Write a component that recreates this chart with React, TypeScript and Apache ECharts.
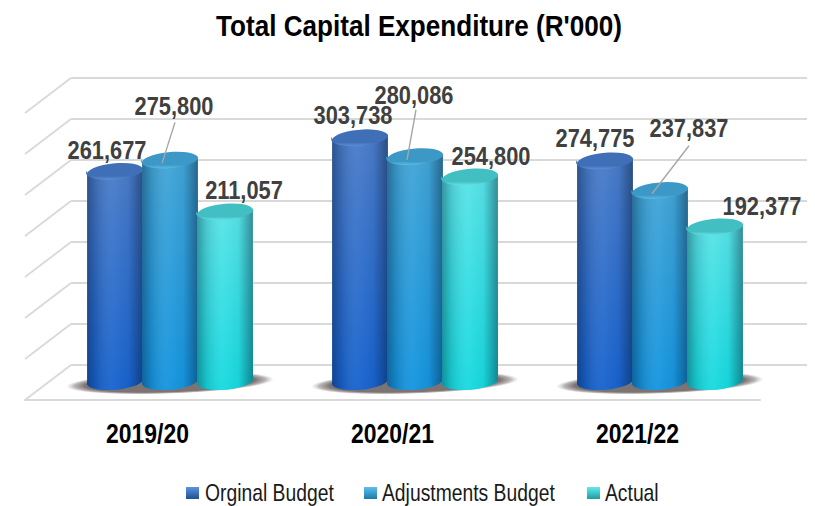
import React, { useEffect, useRef } from "react";
import * as echarts from "echarts";

const titleText = "Total Capital Expenditure (R'000)";
const categories = ["2019/20", "2020/21", "2021/22"];
const seriesNames = ["Orginal Budget", "Adjustments Budget", "Actual"];
const originalBudget = [261677, 303738, 274775];
const adjustmentsBudget = [275800, 280086, 237837];
const actual = [211057, 254800, 192377];
const gridTicks = [0, 50000, 100000, 150000, 200000, 250000, 300000, 350000];

const FONT = "'Liberation Sans', Arial, sans-serif";
const seriesValues = [originalBudget, adjustmentsBudget, actual];
const palette = [
  { top: "#4a7cc8", bottom: "#1763cf", lid: "#3f6fb6", rim: "#5d8fd8", dark: "#1f4f94", light: "#5a94e0" },
  { top: "#42a5d6", bottom: "#1495e0", lid: "#3c98c6", rim: "#5cbce4", dark: "#1c7aa8", light: "#5cc0ec" },
  { top: "#58e4e8", bottom: "#16dae0", lid: "#42bfc3", rim: "#68e2e4", dark: "#1f9ca0", light: "#62eaec" },
];
// label offsets from the lid centre [dx, dy], per series then category
const labelOffsets = [
  [[-8, -21], [-7, -22], [-10, -22]],
  [[4, -54], [-1, -61], [29, -62]],
  [[19, -21], [21, -20], [47, -20]],
];
// leader line start relative to lid centre, or null
const leaders = [
  [null, null, null],
  [[5, -37], [1, -46], [29, -44]],
  [null, null, null],
];
const legendIconX = [186, 364, 587];
const legendTextX = [205, 382, 605];

const BAR_W = 55;
const RX = 28;
const RY = 8.5;
const TILT = (5 * Math.PI) / 180;

const fmt = (v: number) => v.toLocaleString("en-US");

function barGeom(api: any, seriesIdx: number) {
  const cat = api.value(0);
  const val = api.value(1);
  const topPt = api.coord([cat, val]);
  const basePt = api.coord([cat, 0]);
  const cx = topPt[0] + (seriesIdx - 1) * BAR_W;
  return { cx, topY: topPt[1], baseY: basePt[1], catIdx: cat, val };
}

function cylinderRender(seriesIdx: number) {
  return (_params: any, api: any) => {
    const { cx, topY, baseY } = barGeom(api, seriesIdx);
    const c = palette[seriesIdx];
    const dx = RX * Math.cos(TILT);
    const dy = RX * Math.sin(TILT);
    const deg = -5;
    const tl = [cx - dx, topY + dy];
    const tr = [cx + dx, topY - dy];
    const bl = [cx - dx, baseY + dy];
    const br = [cx + dx, baseY - dy];
    const body =
      `M${tl[0]} ${tl[1]} L${bl[0]} ${bl[1]} ` +
      `A${RX} ${RY} ${deg} 0 0 ${br[0]} ${br[1]} L${tr[0]} ${tr[1]} ` +
      `A${RX} ${RY} ${deg} 0 1 ${tl[0]} ${tl[1]} Z`;
    const lid =
      `M${tl[0]} ${tl[1]} A${RX} ${RY} ${deg} 1 1 ${tr[0]} ${tr[1]} ` +
      `A${RX} ${RY} ${deg} 1 1 ${tl[0]} ${tl[1]} Z`;
    return {
      type: "group",
      children: [
        {
          type: "path",
          shape: { pathData: body },
          style: {
            fill: new echarts.graphic.LinearGradient(0, 0, 0, 1, [
              { offset: 0, color: c.top },
              { offset: 1, color: c.bottom },
            ]),
          },
        },
        {
          type: "path",
          shape: { pathData: body },
          style: {
            fill: new echarts.graphic.LinearGradient(0, 0, 1, 0, [
              { offset: 0, color: "rgba(0,10,30,0.36)" },
              { offset: 0.16, color: "rgba(0,10,30,0.14)" },
              { offset: 0.48, color: "rgba(255,255,255,0.04)" },
              { offset: 0.74, color: "rgba(0,10,30,0.04)" },
              { offset: 1, color: "rgba(0,10,30,0.4)" },
            ]),
          },
        },
        {
          type: "path",
          shape: { pathData: lid },
          style: {
            fill: new echarts.graphic.LinearGradient(0, 0, 0, 1, [
              { offset: 0, color: c.lid },
              { offset: 0.78, color: c.lid },
              { offset: 1, color: c.rim },
            ]),
          },
        },
      ],
    };
  };
}

function shadowRender(_params: any, api: any) {
  const pt = api.coord([api.value(0), 0]);
  return {
    type: "ellipse",
    shape: { cx: pt[0], cy: pt[1] + 3, rx: 104, ry: 11 },
    rotation: (2 * Math.PI) / 180,
    originX: pt[0],
    originY: pt[1] + 3,
    style: {
      fill: new echarts.graphic.RadialGradient(0.5, 0.5, 0.5, [
        { offset: 0, color: "rgba(125,115,115,1)" },
        { offset: 0.82, color: "rgba(125,115,115,1)" },
        { offset: 0.92, color: "rgba(150,142,142,0.65)" },
        { offset: 1, color: "rgba(190,185,185,0)" },
      ]),
    },
  };
}

function labelRender(_params: any, api: any) {
  const s = api.value(2);
  const { cx, topY, val, catIdx } = barGeom(api, s);
  const off = labelOffsets[s][catIdx];
  const lead = leaders[s][catIdx];
  const children: any[] = [];
  if (lead) {
    children.push({
      type: "line",
      shape: { x1: cx + lead[0], y1: topY + lead[1], x2: cx - 8, y2: topY + 4 },
      style: { stroke: "#a6a6a6", lineWidth: 1.4 },
    });
  }
  children.push({
    type: "text",
    x: cx + off[0],
    y: topY + off[1],
    scaleX: 0.84,
    style: {
      text: fmt(val),
      fill: "#404040",
      font: `bold 26px ${FONT}`,
      align: "center",
      verticalAlign: "middle",
    },
  });
  return { type: "group", children };
}

function categoryRender(_params: any, api: any) {
  const pt = api.coord([api.value(0), 0]);
  return {
    type: "text",
    x: pt[0],
    y: pt[1] + 33,
    scaleX: 0.82,
    style: {
      text: categories[api.value(0)],
      fill: "#000000",
      font: `bold 28px ${FONT}`,
      align: "center",
      verticalAlign: "middle",
    },
  };
}

function sideLineRender(params: any, api: any) {
  const y = api.coord([0, api.value(0)])[1];
  const x = params.coordSys.x;
  return {
    type: "line",
    shape: { x1: x, y1: y, x2: x - 46, y2: y + 35 },
    style: { stroke: "#d9d9d9", lineWidth: 1.8 },
  };
}

export default function App() {
  const ref = useRef<HTMLDivElement>(null);
  useEffect(() => {
    const chart = echarts.init(ref.current!, undefined, { renderer: "svg" });
    const legendIcon = (i: number) =>
      new echarts.graphic.LinearGradient(0, 0, 0, 1, [
        { offset: 0, color: palette[i].light },
        { offset: 1, color: palette[i].dark },
      ]);
    const hiddenCat = { type: "category", data: categories, show: false };
    const hiddenVal = { type: "value", min: 0, max: 350000, interval: 50000, show: false };
    chart.setOption({
      animation: false,
      backgroundColor: "#ffffff",
      graphic: [
        {
          type: "text",
          x: 419,
          y: 26,
          scaleX: 0.9,
          style: {
            text: titleText,
            fill: "#000000",
            font: `bold 29px ${FONT}`,
            align: "center",
            verticalAlign: "middle",
          },
        },
        ...seriesNames.flatMap((name, i) => [
          {
            type: "rect",
            shape: { x: legendIconX[i], y: 487, width: 13, height: 12 },
            style: { fill: legendIcon(i) },
          },
          {
            type: "text",
            x: legendTextX[i],
            y: 493,
            scaleX: 0.805,
            style: {
              text: name,
              fill: "#1a1a1a",
              font: `24px ${FONT}`,
              align: "left",
              verticalAlign: "middle",
            },
          },
        ]),
      ],
      grid: [
        { left: 71, width: 736, top: 78, height: 287 }, // back wall
        { left: 47.5, width: 735, top: 100, height: 280 }, // bars
        { left: 25, width: 735, top: 100, height: 300 }, // floor front edge
      ],
      xAxis: [
        { ...hiddenCat, gridIndex: 0 },
        { ...hiddenCat, gridIndex: 1 },
        {
          type: "category",
          data: categories,
          gridIndex: 2,
          axisTick: { show: false },
          axisLine: { show: true, lineStyle: { color: "#d9d9d9", width: 2 } },
          axisLabel: { show: false },
        },
      ],
      yAxis: [
        {
          type: "value",
          gridIndex: 0,
          min: 0,
          max: 350000,
          interval: 50000,
          axisLine: { show: false },
          axisTick: { show: false },
          axisLabel: { show: false },
          splitLine: { show: true, lineStyle: { color: "#d9d9d9", width: 2 } },
        },
        { ...hiddenVal, gridIndex: 1 },
        { ...hiddenVal, gridIndex: 2 },
      ],
      series: [
        {
          type: "custom",
          name: "walls",
          xAxisIndex: 0,
          yAxisIndex: 0,
          z: 1,
          silent: true,
          encode: { x: -1, y: 0 },
          renderItem: sideLineRender,
          data: gridTicks.map((t) => [t]),
        },
        {
          type: "custom",
          name: "shadow",
          xAxisIndex: 1,
          yAxisIndex: 1,
          z: 2,
          silent: true,
          encode: { x: 0, y: 1 },
          renderItem: shadowRender,
          data: categories.map((_, i) => [i, 0]),
        },
        ...seriesNames.map((name, s) => ({
          type: "custom",
          name,
          xAxisIndex: 1,
          yAxisIndex: 1,
          z: 3 + s,
          encode: { x: 0, y: 1 },
          itemStyle: { color: palette[s].bottom },
          renderItem: cylinderRender(s),
          data: seriesValues[s].map((v, i) => [i, v]),
        })),
        {
          type: "custom",
          name: "labels",
          xAxisIndex: 1,
          yAxisIndex: 1,
          z: 10,
          silent: true,
          encode: { x: 0, y: 1 },
          renderItem: labelRender,
          data: seriesValues.flatMap((vals, s) => vals.map((v, i) => [i, v, s])),
        },
        {
          type: "custom",
          name: "categories",
          xAxisIndex: 2,
          yAxisIndex: 2,
          z: 10,
          silent: true,
          encode: { x: 0, y: 1 },
          renderItem: categoryRender,
          data: categories.map((_, i) => [i, 0]),
        },
      ],
    });
    return () => chart.dispose();
  }, []);
  return (
    <div
      ref={ref}
      style={{ position: "absolute", left: 0, top: 0, width: 815, height: 506 }}
    />
  );
}
